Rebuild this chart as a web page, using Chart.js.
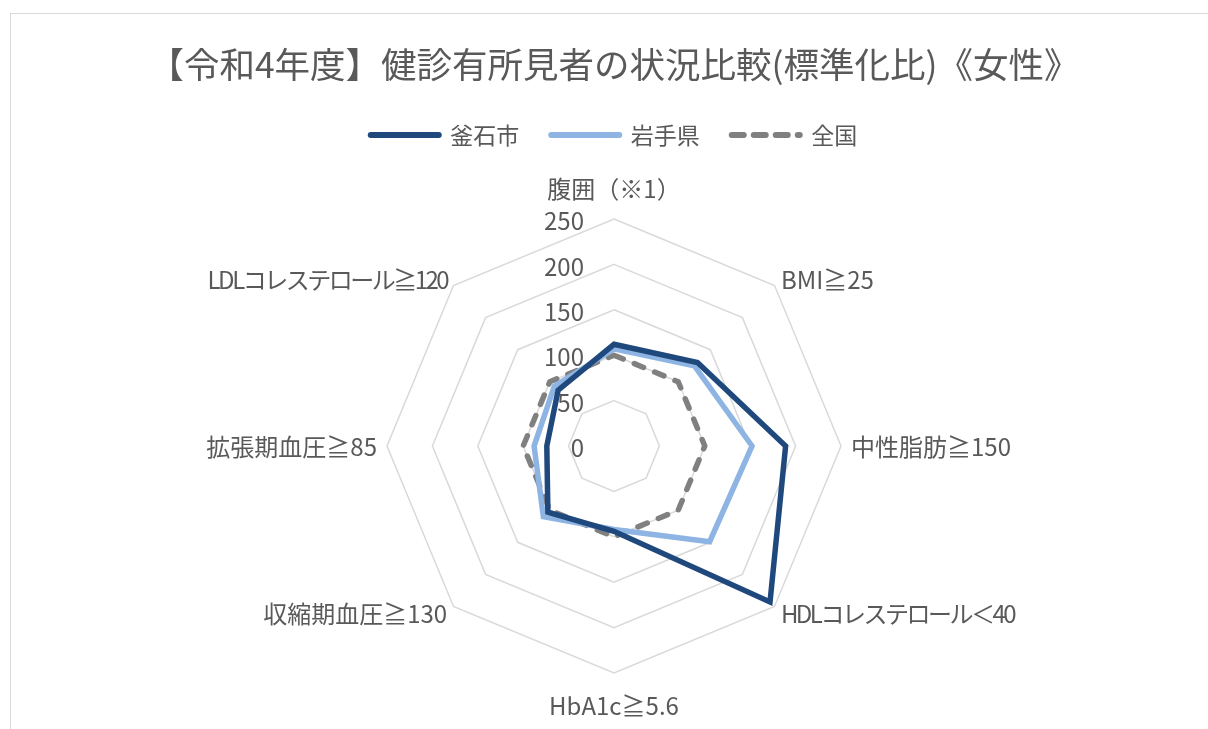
<!DOCTYPE html>
<html lang="ja">
<head>
<meta charset="utf-8">
<title>健診有所見者の状況比較</title>
<script src="https://cdn.jsdelivr.net/npm/chart.js@4"></script>
<style>
  html, body { margin: 0; padding: 0; background: #ffffff; overflow: hidden; }
  #frame {
    position: absolute; left: 10px; top: 13px;
    width: 1206px; height: 720px;
    border: 1px solid #d9d9d9; background: #ffffff;
  }
</style>
</head>
<body>
<div id="frame"><canvas id="radarChart"></canvas></div>
<script>
const categories = ['腹囲（※1）', 'BMI≧25', '中性脂肪≧150', 'HDLコレステロール＜40', 'HbA1c≧5.6', '収縮期血圧≧130', '拡張期血圧≧85', 'LDLコレステロール≧120'];
const kamaishi = [112, 130, 189, 243, 94, 103, 74, 87];
const iwate = [107, 125, 152, 149, 92, 110, 88, 93];
const national = [100, 100, 100, 100, 100, 100, 100, 100];
const tickValues = [0, 50, 100, 150, 200, 250];

const textColor = '#595959';
const jpFont = "'Noto Sans CJK JP', 'Noto Sans', sans-serif";

// extra room under the legend, before the radar area
const legendSpacePlugin = {
    id: 'legendSpace',
    beforeInit(chart) {
        const fit = chart.legend.fit;
        chart.legend.fit = function () {
            fit.call(this);
            this.height += 62;
        };
    }
};

// tick labels to the left of the top axis, and category labels drawn Excel-style
const labelPlugin = {
    id: 'excelLabels',
    beforeDatasetsDraw(chart) {
        const scale = chart.scales.r;
        const ctx = chart.ctx;
        ctx.save();
        ctx.fillStyle = textColor;
        ctx.textBaseline = 'middle';

        ctx.font = '24px ' + jpFont;
        ctx.textAlign = 'right';
        tickValues.forEach(function (v) {
            const d = scale.getDistanceFromCenterForValue(v);
            ctx.fillText(String(v), scale.xCenter - 30, scale.yCenter - d + 2);
        });

        const outer = scale.getDistanceFromCenterForValue(scale.max);
        const gap = [31, 9, 10, 9, 32, 9, 10, 9];
        categories.forEach(function (text, i) {
            const p = scale.getPointPosition(i, outer + gap[i]);
            if (i === 0 || i === 4) ctx.textAlign = 'center';
            else if (i < 4) ctx.textAlign = 'left';
            else ctx.textAlign = 'right';
            // katakana in the original font run narrower
            ctx.letterSpacing = /[ァ-ヶー]/.test(text) ? '-2.5px' : '0px';
            ctx.fillText(text, p.x, p.y + 1);
        });
        ctx.restore();
    }
};

const ctx = document.getElementById('radarChart').getContext('2d');
new Chart(ctx, {
    type: 'radar',
    data: {
        labels: categories,
        datasets: [{
            label: '釜石市',
            data: kamaishi,
            borderColor: '#1f497d',
            backgroundColor: '#1f497d',
            borderWidth: 5.5,
            borderCapStyle: 'round',
            fill: false,
            pointRadius: 0,
            pointHoverRadius: 0
        }, {
            label: '岩手県',
            data: iwate,
            borderColor: '#8eb4e3',
            backgroundColor: '#8eb4e3',
            borderWidth: 5.5,
            borderCapStyle: 'round',
            fill: false,
            pointRadius: 0,
            pointHoverRadius: 0
        }, {
            label: '全国',
            data: national,
            borderColor: '#808080',
            backgroundColor: '#808080',
            borderWidth: 5.5,
            borderDash: [10, 12],
            borderCapStyle: 'round',
            borderJoinStyle: 'round',
            fill: false,
            pointRadius: 0,
            pointHoverRadius: 0
        }]
    },
    options: {
        responsive: true,
        maintainAspectRatio: false,
        animation: false,
        layout: { padding: { top: 0, bottom: 60 } },
        plugins: {
            title: {
                display: true,
                text: '【令和4年度】健診有所見者の状況比較(標準化比)《女性》',
                color: textColor,
                font: { family: jpFont, size: 35.5, weight: 'normal' },
                padding: { top: 29, bottom: 6 }
            },
            legend: {
                position: 'top',
                labels: {
                    color: textColor,
                    font: { family: jpFont, size: 23 },
                    usePointStyle: true,
                    pointStyle: 'line',
                    pointStyleWidth: 68,
                    padding: 32,
                    generateLabels: function (chart) {
                        const items = Chart.defaults.plugins.legend.labels.generateLabels(chart);
                        items.forEach(function (item) {
                            const ds = chart.data.datasets[item.datasetIndex];
                            item.lineDash = ds.borderDash ? [12, 10] : [];
                            item.lineCap = 'round';
                            item.lineWidth = 6;
                            item.strokeStyle = ds.borderColor;
                        });
                        return items;
                    }
                }
            },
            tooltip: { enabled: false }
        },
        scales: {
            r: {
                min: 0,
                max: 250,
                ticks: { stepSize: 50, display: false },
                angleLines: { display: false },
                grid: { circular: false, color: '#d9d9d9', lineWidth: 1.5 },
                pointLabels: { display: false }
            }
        }
    },
    plugins: [legendSpacePlugin, labelPlugin]
});
</script>
</body>
</html>
